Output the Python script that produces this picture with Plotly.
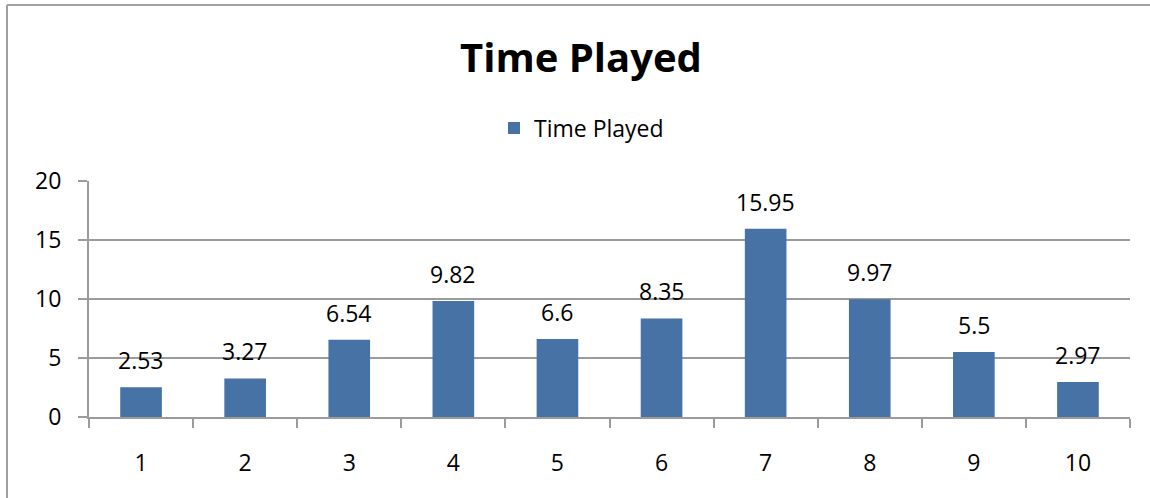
import plotly.graph_objects as go

# Session data
sessions = ["1", "2", "3", "4", "5", "6", "7", "8", "9", "10"]
time_played = [2.53, 3.27, 6.54, 9.82, 6.6, 8.35, 15.95, 9.97, 5.5, 2.97]
series_name = "Time Played"
chart_title = "Time Played"
y_ticks = [0, 5, 10, 15, 20]

W, H = 1150, 498
L, R, T, B = 89, 20, 181, 81
PW, PH = W - L - R, H - T - B

BAR = "rgb(70,114,165)"
GRID = "rgb(155,155,155)"
FONT = "Open Sans"
FS = 23


def px_x(px):
    return (px - L) / PW


def px_y(py):
    return (H - B - py) / PH


fig = go.Figure()
fig.add_trace(go.Bar(
    x=sessions, y=time_played, name=series_name,
    marker=dict(color=BAR, line=dict(width=0)),
    width=0.4, showlegend=True,
))

# value labels above each bar (category positions by index)
for i, v in enumerate(time_played):
    fig.add_annotation(
        x=i, y=v, text=f"{v:g}", showarrow=False,
        yanchor="bottom", yshift=9,
        font=dict(family=FONT, size=FS, color="black"),
    )

# outer chart frame
fig.add_shape(type="line", xref="paper", yref="paper",
              x0=px_x(7), x1=px_x(1160), y0=px_y(5), y1=px_y(5),
              line=dict(color="rgb(160,160,160)", width=2))
fig.add_shape(type="line", xref="paper", yref="paper",
              x0=px_x(7), x1=px_x(7), y0=px_y(5), y1=px_y(510),
              line=dict(color="rgb(160,160,160)", width=2))

fig.update_layout(
    width=W, height=H,
    margin=dict(l=L, r=R, t=T, b=B, autoexpand=False),
    paper_bgcolor="white", plot_bgcolor="white",
    font=dict(family=FONT, size=FS, color="black"),
    title=dict(text=f"<b>{chart_title}</b>", x=px_x(581), xanchor="center",
               xref="paper", y=1 - 58 / H, yref="container", yanchor="middle",
               font=dict(family=FONT, size=40, color="black")),
    legend=dict(orientation="h", x=px_x(494), xanchor="left",
                y=px_y(128), yanchor="middle",
                font=dict(family=FONT, size=FS, color="black"),
                bgcolor="rgba(0,0,0,0)"),
    bargap=0.6,
)

fig.update_xaxes(
    type="category", range=[-0.5, 9.5],
    showline=True, linecolor=GRID, linewidth=2,
    ticks="outside", tickson="boundaries", ticklen=9, tickwidth=2, tickcolor=GRID,
    showgrid=False, ticklabelstandoff=24,
    tickfont=dict(family=FONT, size=FS, color="black"),
)
fig.update_yaxes(
    range=[0, 20], tickvals=y_ticks,
    showline=True, linecolor=GRID, linewidth=2,
    ticks="outside", ticklen=9, tickwidth=2, tickcolor=GRID,
    showgrid=True, gridcolor=GRID, gridwidth=2, zeroline=False,
    ticklabelstandoff=12,
    tickfont=dict(family=FONT, size=FS, color="black"),
)

fig.write_html("out.html")
